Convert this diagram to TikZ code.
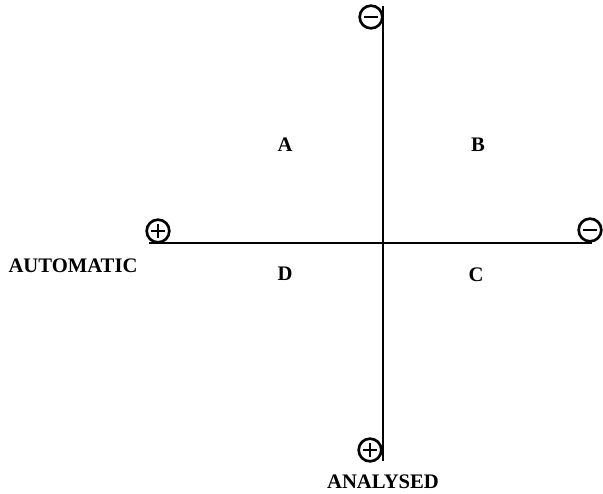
\documentclass[tikz,border=0pt]{standalone}
\usepackage{fontspec}
\setmainfont{Liberation Serif}
\tikzset{
  sign/.style={circle, draw, line width=2pt, minimum size=17pt, inner sep=0pt},
  plus/.style={sign, path picture={
    \draw[line width=1.8pt] ([xshift=-5pt]path picture bounding box.center) -- ([xshift=5pt]path picture bounding box.center);
    \draw[line width=1.8pt] ([yshift=-5pt]path picture bounding box.center) -- ([yshift=5pt]path picture bounding box.center);}},
  minus/.style={sign, path picture={
    \draw[line width=1.8pt] ([xshift=-5pt]path picture bounding box.center) -- ([xshift=5pt]path picture bounding box.center);}},
  lbl/.style={font=\fontsize{15.5}{18}\bfseries\selectfont}
}
\begin{document}
\begin{tikzpicture}[x=0.75pt, y=-0.75pt]
  \useasboundingbox (0,0) rectangle (603,493);
  % axes
  \coordinate (n) at (383,6);
  \coordinate (s) at (383,461);
  \coordinate (w) at (149,243);
  \coordinate (e) at (592,243);
  \draw[line width=2.2pt] (n) -- (s);
  \draw[line width=2.2pt] (w) -- (e);
  % poles
  \node[minus] (top) at (371,17) {};
  \node[plus] (bottom) at (370,450) {};
  \node[plus] (left) at (158,231) {};
  \node[minus] (right) at (590,230) {};
  % quadrants
  \foreach \x/\y/\q in {285/145/A, 478/145/B, 476/275/C, 285/274/D}
    \node[lbl] (\q) at (\x,\y) {\q};
  \node[lbl] (auto) at (73,266) {AUTOMATIC};
  \node[lbl] (anal) at (383,482) {ANALYSED};
\end{tikzpicture}
\end{document}
